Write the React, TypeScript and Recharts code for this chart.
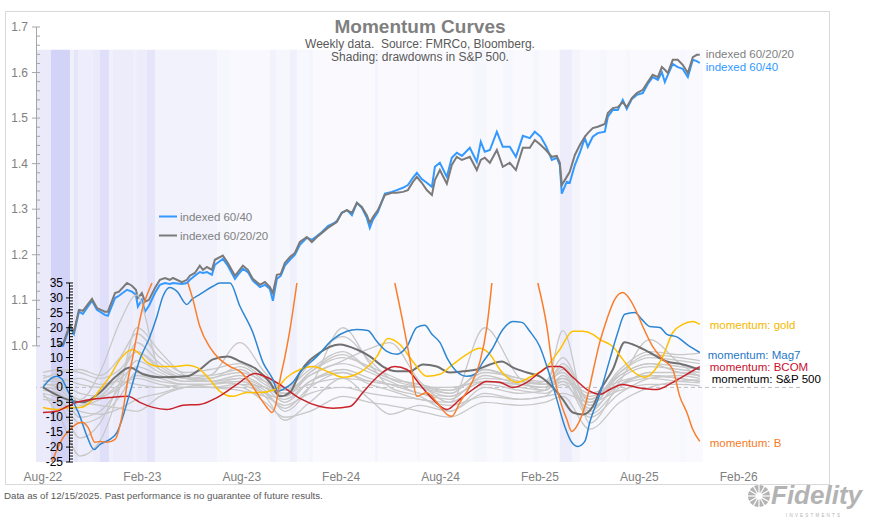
import React from 'react';
import { ComposedChart, Line, XAxis, YAxis, ReferenceArea, ReferenceLine, Legend } from 'recharts';

const FONT = '"Liberation Sans", Arial, sans-serif';

// x positions are months counted from Aug-22
const xTickMonths = [0, 6, 12, 18, 24, 30, 36, 42];
const xTickLabels = ['Aug-22', 'Feb-23', 'Aug-23', 'Feb-24', 'Aug-24', 'Feb-25', 'Aug-25', 'Feb-26'];
const idxMajorTicks = [1.0, 1.1, 1.2, 1.3, 1.4, 1.5, 1.6, 1.7];
const momMajorTicks = [-25, -20, -15, -10, -5, 0, 5, 10, 15, 20, 25, 30, 35];
const legendOrder = ['indexed 60/40', 'indexed 60/20/20'];

// S&P 500 drawdown shading (%), band edges in months
const ddEdges = [-0.42, 0.48, 1.63, 1.87, 2.11, 3.02, 3.44, 3.98, 4.22, 5.43, 5.67, 6.28, 6.76, 10.5, 11.29, 13.7, 14.06, 14.91, 15.33, 16.11, 16.29, 20.04, 20.22, 22.57, 22.75, 25.95, 26.8, 27.76, 28.36, 29.57, 29.99, 31.2, 31.92, 32.41, 33.61, 34.04, 35.24, 35.43, 38.44, 38.87, 39.83];
const ddValues = [-11, -25, -7.5, -14, -9, -11, -17.5, -7.5, -10, -7.5, -10, -14, -6, -4, -2.5, -6, -4, -7.5, -3, -5, -1, -5, -1, -4, -1, -4, -1, -4, -1, -4, -2, -10, -5, -2.5, -4, -1, -4, -1, -3, -1];

// indexed portfolios
const idxMonths = [0.91, 1.21, 1.45, 1.63, 1.87, 2.17, 2.41, 2.96, 3.26, 3.74, 3.92, 4.35, 4.59, 5.07, 5.37, 5.61, 5.73, 5.97, 6.16, 6.4, 6.76, 7.06, 7.36, 7.66, 7.85, 8.39, 8.69, 8.87, 9.17, 9.47, 9.66, 9.9, 10.2, 10.38, 10.86, 11.16, 11.59, 11.77, 12.07, 12.37, 12.67, 13.1, 13.4, 13.7, 13.88, 14.12, 14.36, 14.6, 14.91, 15.21, 15.51, 15.93, 16.23, 16.54, 16.84, 17.2, 17.5, 17.74, 18.04, 18.35, 18.65, 18.95, 19.25, 19.55, 19.73, 19.92, 20.22, 20.64, 21.06, 21.36, 21.73, 22.03, 22.33, 22.57, 22.87, 23.17, 23.48, 23.66, 23.96, 24.38, 24.68, 24.98, 25.29, 25.77, 26.19, 26.43, 26.67, 26.98, 27.4, 27.76, 28.18, 28.55, 28.97, 29.39, 29.69, 30.05, 30.36, 30.72, 31.02, 31.2, 31.32, 31.62, 31.8, 32.11, 32.41, 32.71, 32.89, 33.19, 33.49, 33.92, 34.1, 34.4, 34.7, 35.0, 35.24, 35.55, 35.85, 36.21, 36.51, 36.81, 37.12, 37.36, 37.54, 37.72, 38.02, 38.32, 38.62, 38.93, 39.23, 39.47, 39.65];
const idx6040 = [1.0, 1.0, 1.024, 1.042, 1.026, 1.075, 1.07, 1.099, 1.079, 1.068, 1.066, 1.105, 1.11, 1.123, 1.119, 1.112, 1.086, 1.101, 1.075, 1.088, 1.116, 1.134, 1.138, 1.136, 1.138, 1.136, 1.138, 1.145, 1.154, 1.162, 1.16, 1.162, 1.156, 1.178, 1.191, 1.176, 1.147, 1.156, 1.169, 1.162, 1.143, 1.129, 1.134, 1.125, 1.099, 1.147, 1.154, 1.176, 1.189, 1.2, 1.222, 1.237, 1.233, 1.241, 1.25, 1.263, 1.268, 1.274, 1.292, 1.298, 1.287, 1.314, 1.303, 1.281, 1.259, 1.277, 1.294, 1.334, 1.338, 1.342, 1.347, 1.353, 1.369, 1.38, 1.366, 1.358, 1.349, 1.393, 1.402, 1.371, 1.413, 1.424, 1.417, 1.435, 1.404, 1.448, 1.426, 1.43, 1.47, 1.437, 1.437, 1.415, 1.461, 1.456, 1.47, 1.459, 1.439, 1.408, 1.413, 1.397, 1.334, 1.36, 1.358, 1.397, 1.424, 1.456, 1.437, 1.459, 1.467, 1.47, 1.503, 1.518, 1.518, 1.54, 1.52, 1.542, 1.551, 1.555, 1.575, 1.59, 1.584, 1.601, 1.579, 1.595, 1.619, 1.612, 1.608, 1.59, 1.628, 1.625, 1.621];
const idx602020 = [1.002, 1.004, 1.029, 1.046, 1.031, 1.079, 1.077, 1.103, 1.083, 1.075, 1.075, 1.116, 1.119, 1.138, 1.132, 1.123, 1.105, 1.116, 1.097, 1.101, 1.127, 1.145, 1.149, 1.145, 1.149, 1.14, 1.145, 1.154, 1.16, 1.176, 1.167, 1.173, 1.167, 1.189, 1.198, 1.182, 1.154, 1.162, 1.176, 1.167, 1.147, 1.134, 1.14, 1.129, 1.116, 1.156, 1.158, 1.182, 1.195, 1.204, 1.228, 1.239, 1.228, 1.239, 1.248, 1.259, 1.266, 1.272, 1.292, 1.298, 1.292, 1.314, 1.305, 1.287, 1.27, 1.283, 1.298, 1.331, 1.336, 1.336, 1.338, 1.342, 1.36, 1.371, 1.358, 1.342, 1.331, 1.364, 1.386, 1.356, 1.397, 1.415, 1.408, 1.415, 1.386, 1.408, 1.413, 1.402, 1.43, 1.393, 1.402, 1.386, 1.435, 1.435, 1.452, 1.441, 1.43, 1.415, 1.417, 1.402, 1.353, 1.371, 1.382, 1.419, 1.441, 1.459, 1.467, 1.478, 1.481, 1.487, 1.511, 1.522, 1.524, 1.535, 1.524, 1.544, 1.555, 1.562, 1.579, 1.595, 1.59, 1.612, 1.606, 1.599, 1.628, 1.628, 1.617, 1.599, 1.634, 1.639, 1.639];

// momentum: named assets
const mag7Months = [0, 0.42, 0.84, 1.15, 1.51, 2.23, 2.66, 3.08, 3.44, 4.04, 4.47, 4.83, 5.25, 5.85, 6.46, 6.88, 7.24, 7.66, 8.09, 8.69, 8.99, 9.47, 10.26, 10.68, 11.29, 11.89, 12.67, 13.28, 13.88, 14.18, 14.48, 15.09, 15.51, 16.54, 17.5, 18.35, 18.95, 19.61, 20.16, 20.76, 21.36, 21.97, 22.57, 23.05, 23.48, 23.96, 24.44, 25.04, 25.59, 26.07, 26.55, 27.1, 27.76, 28.36, 28.91, 29.39, 29.99, 30.48, 31.02, 31.5, 31.92, 32.29, 32.71, 33.01, 33.61, 34.22, 34.7, 35.12, 35.73, 36.15, 36.63, 37.24, 37.66, 38.32, 38.87, 39.65];
const mag7Values = [0, 2.7, 3.7, 2.7, -1.3, -9.7, -16.4, -20.8, -19.1, -17.4, -15.1, -9.7, -1.7, 9.4, 17.1, 23.8, 30.5, 33.5, 32.2, 27.8, 29.5, 31.2, 33.9, 35, 35, 27.2, 18.4, 8.4, 2.7, -1.3, -0.7, 1.7, 5.0, 10.4, 16.1, 18.8, 19.4, 19.1, 15.4, 12.1, 11.1, 13.7, 20.1, 20.8, 17.8, 15.1, 9.4, 5.0, 3.7, 4.4, 8.4, 12.7, 19.4, 22.1, 21.8, 18.8, 13.7, 6.0, -4.0, -13.1, -18.4, -19.8, -18.1, -11.7, -2.3, 9.4, 18.4, 24.5, 25.1, 22.8, 20.4, 20.1, 17.8, 16.8, 14.4, 11.7];

const spxMonths = [0, 1.45, 2.41, 3.44, 4.35, 5.25, 6.04, 7.06, 8.69, 9.47, 10.26, 11.16, 11.89, 12.91, 13.7, 14.3, 14.91, 15.51, 16.72, 17.92, 18.95, 19.73, 20.52, 21.36, 22.15, 22.93, 23.78, 24.56, 25.35, 26.19, 26.98, 27.7, 28.36, 29.21, 29.99, 30.78, 31.38, 31.99, 32.59, 33.19, 33.61, 34.4, 35.12, 35.61, 36.63, 37.66, 38.62, 39.65];
const spxValues = [0, -4.0, -5.0, -1.7, 3.4, 6.7, 4.4, 3.4, 3.7, 6.0, 9.4, 10.4, 8.7, 6.0, 1.7, -3.0, -1.7, 5.0, 11.7, 14.4, 12.7, 10.4, 7.0, 5.4, 5.4, 7.7, 7.0, 5.0, 5.4, 6.0, 7.7, 8.7, 6.7, 5.0, 3.7, 0, -4.0, -8.4, -9.1, -6.4, -1.3, 6.0, 15.1, 14.4, 11.7, 8.7, 7.7, 6.0];

const goldMonths = [0, 0.84, 1.63, 2.23, 2.84, 3.44, 4.04, 4.65, 5.13, 5.43, 5.85, 6.28, 7.06, 7.85, 8.69, 9.29, 9.9, 10.68, 11.47, 12.31, 13.1, 14.0, 14.73, 15.51, 16.29, 17.32, 18.11, 19.13, 20.16, 20.82, 21.55, 22.33, 23.17, 23.96, 24.74, 25.59, 26.37, 26.98, 27.58, 28.18, 28.61, 29.39, 30.42, 31.2, 31.99, 32.59, 33.19, 33.61, 34.4, 35.0, 35.61, 36.33, 36.81, 37.42, 38.02, 38.62, 39.23, 39.65];
const goldValues = [-6.7, -7.4, -6.7, -6.7, -5.0, -0.7, 3.7, 9.4, 12.1, 12.7, 11.1, 8.4, 7.0, 7.0, 7.4, 6.7, 3.7, -1.3, -3.0, -1.7, -1.7, -0.7, 3.4, 6.0, 7.0, 5.0, 3.4, 5.0, 10.4, 16.4, 14.4, 8.7, 3.7, 4.4, 7.7, 11.1, 13.1, 11.1, 6.0, 2.7, 1.7, 3.4, 7.0, 12.7, 18.8, 18.8, 17.8, 16.1, 13.7, 9.4, 5.4, 3.4, 5.0, 10.4, 18.4, 21.1, 22.1, 21.1];

const bcomMonths = [0, 0.84, 1.45, 2.05, 3.02, 4.04, 5.13, 5.85, 6.64, 7.48, 8.45, 9.47, 10.5, 11.71, 12.79, 13.52, 14.48, 15.51, 16.72, 17.5, 18.53, 19.31, 20.16, 21.24, 21.97, 22.75, 23.54, 24.38, 25.17, 25.95, 26.8, 27.58, 28.36, 29.21, 29.99, 30.6, 31.2, 31.99, 33.01, 33.61, 34.22, 35.0, 35.85, 37.06, 38.02, 39.05, 39.65];
const bcomValues = [-8.4, -8.0, -6.4, -5.0, -4.0, -3.4, -3.0, -5.0, -6.7, -7.4, -6.0, -5.7, -3.4, 1.0, 4.7, 3.4, 0.3, -3.7, -6.4, -7.0, -6.4, -1.7, 3.4, 7.0, 6.0, 1.0, -4.0, -7.4, -4.0, -0.7, 2.0, 1.7, 0, 1.7, 5.0, 7.0, 7.0, 3.4, -1.3, -2.3, -0.7, 1.0, 0, -0.7, 1.7, 5.0, 7.0];

// B runs off the -25..35 axis; visible pieces only, null where it is off scale
const bMonths = [0.54, 1.15, 1.51, 2.35, 2.72, 3.14, 3.44, 3.86, 4.35, 4.77, 5.13, 5.43, 5.73, 6.04, 6.34, 6.58, 7.5, 8.75, 9.05, 9.47, 10.08, 10.68, 11.29, 11.89, 12.49, 13.1, 13.52, 13.82, 14.06, 14.3, 14.6, 14.91, 15.33, 18, 21.24, 21.73, 22.15, 22.57, 23.17, 23.78, 24.38, 24.68, 25.17, 25.77, 26.37, 26.8, 27.1, 28.5, 29.87, 30.42, 30.78, 31.2, 31.62, 31.92, 32.29, 32.83, 33.19, 33.61, 34.04, 34.52, 35.0, 35.43, 35.85, 36.21, 36.81, 37.42, 38.02, 38.44, 38.87, 39.23, 39.65];
const bValues = [-25, -17.4, -14.8, -11.7, -13.4, -18.4, -18.1, -18.4, -17.4, -9.7, 2.7, 10.4, 19.4, 27.2, 31.8, 35, null, 35, 29.5, 20.4, 13.4, 9.4, 7.0, 5.4, 1.7, -3.4, -6.7, -8.4, -5.7, 2.3, 10.1, 19.4, 35, null, 35, 21.8, 9.4, -3.0, -1.7, -5.0, -9.0, -9.7, -5.0, 0.3, 8.4, 20.4, 35, null, 35, 20.4, 6.0, -4.0, -10.7, -14.8, -12.4, -4.0, 5.0, 15.1, 22.8, 29.5, 31.8, 29.5, 25.1, 20.4, 13.7, 9.4, 6.0, -3.0, -8.4, -14.1, -18.1];

// momentum: other assets (grey bundle)
const grayMonths = [0, 1.03, 2.23, 3.44, 4.65, 5.67, 7.06, 8.57, 10.08, 11.89, 13.4, 14.6, 16.11, 18.11, 19.73, 20.94, 22.75, 24.56, 26.67, 28.79, 30.3, 31.38, 33.01, 34.82, 36.63, 38.44, 39.65];
const grayA = [1, 0, -4, 5, 22, 31, 6, 3, 2, 1, -2, -4, 2, 5, 2, 1, 0, -1, 3, 2, 1, 3, -2, 2, 4, 3, 2];
const grayB = [-2, -10, -23, -18, 0, 20, 12, 4, 2, 3, 0, -3, 4, 8, 5, 2, -2, -4, 4, 1, 0, 6, -6, 4, 8, 5, 4];
const grayC = [3, 5, 6, 4, 10, 18, 10, 5, 6, 8, 3, 0, 6, 12, 6, 3, 1, -1, 5, 3, 1, 8, -4, 5, 10, 9, 8];
const grayD = [-3, -6, -17, -12, 2, 15, 8, 4, 4, 6, 1, -2, 5, 10, 7, 4, 0, -2, 6, 3, 2, 5, -8, 3, 7, 6, 5];
const grayE = [5, 6, 5, 3, 6, 12, 7, 3, 4, 15, 5, -1, 8, 17, 9, 3, 0, -3, 2, 1, 2, 10, -5, 6, 12, 11, 11.5];
const grayF = [0, -3, -5, -6, -7, -8, -3, 0, 1, 2, -3, -11, -5, 3, -4, -9, -6, -8, -2, -4, -3, 2, -10, -2, 3, 4, 3];
const grayG = [-1, -2, -10, -8, 0, 9, 5, 2, 2, 4, 0, -5, 2, 6, 3, 1, -2, -3, 2, 0, -1, 4, -9, 0, 5, 5, 4];
const grayH = [2, 3, 1, 0, 3, 7, 4, 2, 3, 5, 2, -1, 4, 9, 13, 15, 2, -5, 20, 3, -1, 3, -4, 4, 8, 7, 6];
const grayI = [1, 1, -2, -3, 0, 4, 2, 1, 1, 2, -1, -8, 0, 20, 8, 0, -3, -8, 0, -2, -1, 19, -12, 2, 16, 8, 3.5];
const grayJ = [-4, -5, -8, -9, -7, -4, -2, 0, 0, 0, -5, -10, -8, -3, -5, -6, -8, -10, -5, -6, -5, -3, -14, -5, 0, 2, 2.5];
const grayK = [4, 2, -5, -3, 4, 12, 6, 3, 3, 7, 2, -3, 5, 11, 6, 3, 1, -2, 6, 2, 1, 7, -6, 5, 11, 10, 9];
const grayL = [0, -1, -6, -4, 1, 3, 1, 0, 0, 1, 0, -2, 1, 3, 2, 1, 0, 0, 2, 1, 0, 2, -3, 1, 3, 2, 1.5];
const grayM = [-2, -4, -12, -10, -3, 5, 3, 1, 1, 3, -2, -7, 0, 5, 1, -1, -4, -5, 1, -1, -2, 1, -7, 1, 4, 3, 2];
const grayN = [2, 2, 3, 1, 2, 1, 0, 1, 0, -1, -3, -6, -2, 0, -2, -3, -4, -6, -3, -4, -3, -2, -5, -1, 1, 1, 0.5];
const grayList = [grayA, grayB, grayC, grayD, grayE, grayF, grayG, grayH, grayI, grayJ, grayK, grayL, grayM, grayN];

const toRows = (months: number[], values: (number | null)[]) => months.map((m, i) => ({ m, v: values[i] }));

// minor ticks between the labelled ones
const idxTicks: number[] = [];
idxMajorTicks.forEach((t, i) => {
  if (i === idxMajorTicks.length - 1) { idxTicks.push(t); return; }
  for (let k = 0; k < 5; k++) idxTicks.push(Math.round((t + k * 0.02) * 100) / 100);
});
const momTicks: number[] = [];
for (let v = momMajorTicks[0]; v <= momMajorTicks[momMajorTicks.length - 1]; v++) momTicks.push(v);

function IdxTick(props: any) {
  const { y, payload } = props;
  const v = payload.value;
  const major = Math.abs(v * 10 - Math.round(v * 10)) < 1e-6;
  const top = v > 1.699;
  const bottom = v < 1.001;
  return (
    <g>
      <line x1={36.5} x2={36.5} y1={top ? y : y - 5} y2={bottom ? y : y + 5} stroke="#a6a6a6" />
      <line x1={major ? 32 : 36.5} x2={40} y1={y} y2={y} stroke="#a6a6a6" />
      {major && (
        <text x={28} y={y + 4} textAnchor="end" fontSize={12} fill="#808080" fontFamily={FONT}>
          {v.toFixed(1)}
        </text>
      )}
    </g>
  );
}

function MomTick(props: any) {
  const { y, payload } = props;
  const v = payload.value;
  const major = v % 5 === 0;
  return (
    <g>
      <line x1={69.5} x2={69.5} y1={v === 35 ? y : y - 1.6} y2={v === -25 ? y : y + 1.6} stroke="#000" />
      <line x1={major ? 66 : 69.5} x2={73} y1={y} y2={y} stroke="#000" />
      {major && (
        <text x={63} y={y + 4} textAnchor="end" fontSize={12} fill="#000" fontFamily={FONT}>
          {v}
        </text>
      )}
    </g>
  );
}

function XTick(props: any) {
  const { x, payload } = props;
  const i = xTickMonths.indexOf(payload.value);
  return (
    <text x={x} y={481} textAnchor="middle" fontSize={12} fill="#808080" fontFamily={FONT}>
      {xTickLabels[i]}
    </text>
  );
}

const endLabel = (text: string, color: string, last: number, dx: number, dy: number) => (props: any) => {
  if (props.index !== last) return null;
  const x = props.x ?? props.viewBox?.x;
  const y = props.y ?? props.viewBox?.y;
  return (
    <text key={text} x={x + dx} y={y + dy} fill={color} fontSize={11.5} fontFamily={FONT} dominantBaseline="central">
      {text}
    </text>
  );
};

function IndexLegend(props: any) {
  const items = (props.payload || [])
    .filter((p: any) => legendOrder.includes(p.value))
    .sort((a: any, b: any) => legendOrder.indexOf(a.value) - legendOrder.indexOf(b.value));
  return (
    <div style={{ fontFamily: FONT, fontSize: 11.5, color: '#808080' }}>
      {items.map((p: any) => (
        <div key={p.value} style={{ display: 'flex', alignItems: 'center', height: 19 }}>
          <svg width={20} height={19}>
            <line x1={0} x2={18} y1={9.5} y2={9.5} stroke={p.color} strokeWidth={2} />
          </svg>
          <span style={{ marginLeft: 1 }}>{p.value}</span>
        </div>
      ))}
    </div>
  );
}

export default function App() {
  const last = (a: any[]) => a.length - 1;
  return (
    <div style={{ position: 'absolute', left: 0, top: 0, width: 879, height: 519, background: '#fff', fontFamily: FONT }}>
      <div style={{ position: 'absolute', left: 5, top: 11, width: 823, height: 472, border: '1px solid #d9d9d9' }} />
      <div style={{ position: 'absolute', left: 0, top: 0 }}>
        <ComposedChart width={879} height={519} margin={{ top: 27, right: 78, bottom: 35, left: 0 }}>
          <XAxis
            type="number"
            dataKey="m"
            domain={[-0.42, 45.7]}
            ticks={xTickMonths}
            interval={0}
            tick={XTick}
            axisLine={false}
            tickLine={false}
            height={22}
            allowDataOverflow
          />
          <YAxis
            yAxisId="idx"
            orientation="left"
            width={36}
            type="number"
            domain={[0.745, 1.7]}
            ticks={idxTicks}
            interval={0}
            tick={IdxTick}
            axisLine={false}
            tickLine={false}
            allowDataOverflow
          />
          <YAxis
            yAxisId="mom"
            orientation="right"
            width={1}
            type="number"
            domain={[-25, 120.8]}
            ticks={momTicks}
            interval={0}
            tick={MomTick}
            axisLine={false}
            tickLine={false}
            allowDataOverflow
          />
          {ddValues.map((dd, i) => (
            <ReferenceArea
              key={'dd' + i}
              yAxisId="idx"
              x1={ddEdges[i]}
              x2={ddEdges[i + 1]}
              y1={0.745}
              y2={1.65}
              fill="#c4c4f4"
              fillOpacity={0.05 + 0.028 * Math.abs(dd)}
              stroke="none"
            />
          ))}
          <ReferenceLine yAxisId="mom" y={0} stroke="#bfbfbf" strokeDasharray="4 3" />

          <Line yAxisId="idx" data={toRows(idxMonths, idx6040)} dataKey="v" name="indexed 60/40" type="linear" stroke="#3399ff" strokeWidth={2} dot={false} activeDot={false} isAnimationActive={false} label={endLabel('indexed 60/40', '#3399ff', last(idxMonths), 6, 4)} />
          <Line yAxisId="idx" data={toRows(idxMonths, idx602020)} dataKey="v" name="indexed 60/20/20" type="linear" stroke="#7a7a7a" strokeWidth={2} dot={false} activeDot={false} isAnimationActive={false} label={endLabel('indexed 60/20/20', '#7f7f7f', last(idxMonths), 6, -1)} />

          {grayList.map((g, i) => (
            <Line key={'g' + i} yAxisId="mom" data={toRows(grayMonths, g)} dataKey="v" type="monotone" stroke="#c8c8c8" strokeWidth={1.3} dot={false} activeDot={false} legendType="none" isAnimationActive={false} />
          ))}
          <Line yAxisId="mom" data={toRows(spxMonths, spxValues)} dataKey="v" name="momentum: S&P 500" type="monotone" stroke="#707070" strokeWidth={2} dot={false} activeDot={false} legendType="none" isAnimationActive={false} label={endLabel('momentum: S&P 500', '#000000', last(spxMonths), 12, 9)} />
          <Line yAxisId="mom" data={toRows(goldMonths, goldValues)} dataKey="v" name="momentum: gold" type="monotone" stroke="#ffc000" strokeWidth={1.5} dot={false} activeDot={false} legendType="none" isAnimationActive={false} label={endLabel('momentum: gold', '#f5b800', last(goldMonths), 10, 1)} />
          <Line yAxisId="mom" data={toRows(bcomMonths, bcomValues)} dataKey="v" name="momentum: BCOM" type="monotone" stroke="#c8232a" strokeWidth={1.5} dot={false} activeDot={false} legendType="none" isAnimationActive={false} label={endLabel('momentum: BCOM', '#c8102e', last(bcomMonths), 10, 0)} />
          <Line yAxisId="mom" data={toRows(mag7Months, mag7Values)} dataKey="v" name="momentum: Mag7" type="monotone" stroke="#2d86d2" strokeWidth={1.5} dot={false} activeDot={false} legendType="none" isAnimationActive={false} label={endLabel('momentum: Mag7', '#1f78c8', last(mag7Months), 8, 2)} />
          <Line yAxisId="mom" data={toRows(bMonths, bValues)} dataKey="v" name="momentum: B" type="monotone" stroke="#fa7d2a" strokeWidth={1.5} dot={false} activeDot={false} legendType="none" isAnimationActive={false} label={endLabel('momentum: B', '#f57a25', last(bMonths), 10, 2)} />

          <Legend
            layout="vertical"
            align="center"
            verticalAlign="middle"
            content={IndexLegend}
            wrapperStyle={{ left: 159, top: 207, width: 'auto' }}
          />
        </ComposedChart>
      </div>
      <svg width={879} height={519} style={{ position: 'absolute', left: 0, top: 0, pointerEvents: 'none' }}>
        <text x={420} y={33} textAnchor="middle" fontSize={19} fontWeight="bold" fill="#7f7f7f" fontFamily={FONT}>
          Momentum Curves
        </text>
        <text x={420} y={48} textAnchor="middle" fontSize={12} fill="#595959" fontFamily={FONT} xmlSpace="preserve">
          Weekly data.  Source: FMRCo, Bloomberg.
        </text>
        <text x={420} y={61} textAnchor="middle" fontSize={12} fill="#595959" fontFamily={FONT}>
          Shading: drawdowns in S&amp;P 500.
        </text>
        <text x={4} y={499} fontSize={9.7} fill="#595959" fontFamily={FONT}>
          Data as of 12/15/2025. Past performance is no guarantee of future results.
        </text>
        <g transform="translate(759,496)">
          <circle r={11} fill="#b3b3b3" />
          {[0, 1, 2, 3, 4, 5, 6, 7, 8, 9, 10, 11].map((k) => (
            <line key={k} x1={0} y1={0} x2={12 * Math.cos((k * Math.PI) / 6)} y2={12 * Math.sin((k * Math.PI) / 6)} stroke="#fff" strokeWidth={1.2} />
          ))}
          <circle r={3.5} fill="#fff" />
        </g>
        <text x={771} y={504} fontSize={26} fontWeight="bold" fontStyle="italic" fill="#b3b3b3" fontFamily={FONT}>
          Fidelity
        </text>
        <text x={786} y={517} fontSize={4.5} letterSpacing={2.2} fill="#b3b3b3" fontFamily={FONT}>
          INVESTMENTS
        </text>
      </svg>
    </div>
  );
}
